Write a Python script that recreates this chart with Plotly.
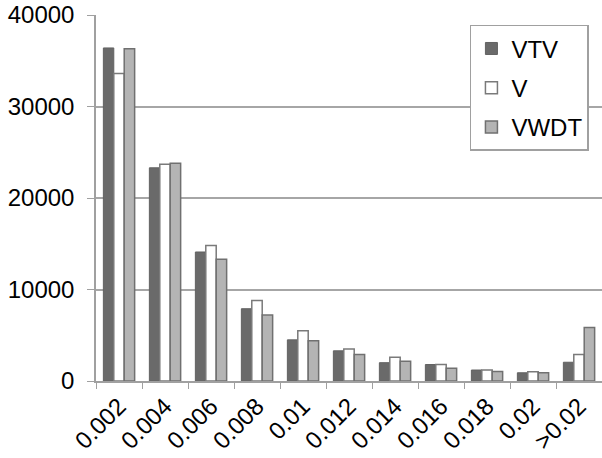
import plotly.graph_objects as go

categories = ["0.002", "0.004", "0.006", "0.008", "0.01", "0.012", "0.014", "0.016", "0.018", "0.02", ">0.02"]
vtv = [36400, 23300, 14100, 7900, 4500, 3300, 2000, 1800, 1200, 900, 2050]
v = [33600, 23700, 14800, 8800, 5500, 3500, 2600, 1800, 1200, 1000, 2900]
vwdt = [36300, 23800, 13300, 7200, 4400, 2900, 2150, 1400, 1050, 900, 5850]
y_ticks = [0, 10000, 20000, 30000, 40000]

font = "Liberation Sans, Arial, Helvetica, sans-serif"

fig = go.Figure()
fig.add_trace(go.Bar(name="VTV", x=categories, y=vtv, legendgroup="a",
                     marker=dict(color="#6a6a6a", line=dict(color="#626262", width=1))))
fig.add_trace(go.Bar(name="V", x=categories, y=v, legendgroup="b",
                     marker=dict(color="#ffffff", line=dict(color="#7a7a7a", width=1.5))))
fig.add_trace(go.Bar(name="VWDT", x=categories, y=vwdt, legendgroup="c",
                     marker=dict(color="#b4b4b4", line=dict(color="#707070", width=1.5))))

fig.update_layout(
    width=602, height=458,
    margin=dict(l=96, r=0, t=15, b=77),
    paper_bgcolor="white", plot_bgcolor="white",
    barmode="group", bargap=0.32, bargroupgap=0,
    font=dict(family=font, size=24, color="black"),
    showlegend=True,
    legend=dict(x=0.739, y=0.973, xanchor="left", yanchor="top",
                bordercolor="#a0a0a0", borderwidth=1.5, bgcolor="white",
                traceorder="grouped", tracegroupgap=5, itemwidth=30,
                font=dict(family=font, size=24)),
)
fig.update_xaxes(type="category", tickangle=-45, showline=True, linecolor="#a0a0a0", linewidth=1.5,
                 ticks="outside", tickson="boundaries", ticklen=6, tickcolor="#a0a0a0",
                 showgrid=False, fixedrange=True, automargin=False)
fig.update_yaxes(range=[0, 40000], tickvals=y_ticks, ticktext=[str(t) for t in y_ticks],
                 showline=True, linecolor="#a0a0a0", linewidth=1.5,
                 ticks="outside", ticklen=7, tickcolor="#a0a0a0", ticklabelstandoff=8,
                 showgrid=True, gridcolor="#a6a6a6", gridwidth=1.5, zeroline=False,
                 automargin=False)

fig.write_html("out.html", config={"displayModeBar": False},
               post_script="document.body.style.margin='0';document.body.style.overflow='hidden';")
